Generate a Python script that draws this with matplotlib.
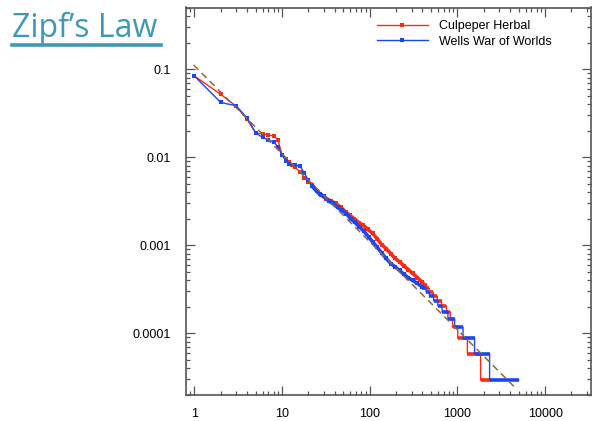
"""
Zipf's law: word frequency vs rank for two texts, log-log.
"""

import numpy as np
import matplotlib
matplotlib.use('Agg')
import matplotlib.pyplot as plt
from matplotlib.lines import Line2D
from matplotlib.ticker import FixedLocator, FixedFormatter, LogLocator, NullFormatter

# ── data ───────────────────────────────────────────────────────────────────
# Culpeper Herbal: top ranks
culp_head_rank = [1, 2, 3, 4, 5, 6, 7, 8, 9, 10, 11, 12, 13, 14, 16, 18, 20]
culp_head_freq = [0.084, 0.052, 0.038, 0.027, 0.019, 0.0184, 0.018, 0.0175,
                  0.0158, 0.0107, 0.0095, 0.0088, 0.0082, 0.0077, 0.0069,
                  0.0059, 0.0053]
# middle ranks (dense points)
culp_body_rank = [22, 25, 28, 32, 36, 41, 47, 53, 59, 67, 76, 84, 95, 108,
                  122, 137, 154, 175, 195, 219, 245, 275, 310, 350, 400]
culp_body_freq = [0.0049, 0.0042, 0.0037, 0.0034, 0.0032, 0.0030, 0.0027,
                  0.0024, 0.0022, 0.0020, 0.0018, 0.0017, 0.00152, 0.00137,
                  0.00118, 0.00102, 0.00092, 0.00080, 0.00071, 0.00065,
                  0.00059, 0.00053, 0.00048, 0.00043, 0.00038]
# low-count tail: runs of ranks with equal frequency
culp_tail_start = [410, 445, 480, 530, 590, 660, 750, 830, 880, 1010, 1300, 1840]
culp_tail_end = [445, 480, 530, 590, 660, 750, 830, 880, 1010, 1300, 1840, 2400]
culp_tail_freq = [3.53e-4, 3.24e-4, 2.94e-4, 2.65e-4, 2.35e-4, 2.06e-4,
                  1.76e-4, 1.47e-4, 1.18e-4, 8.8e-5, 5.9e-5, 2.94e-5]

# Wells War of Worlds
wells_head_rank = [1, 2, 3, 4, 5, 6, 7, 8, 9, 10, 11, 12, 14, 16, 18, 20]
wells_head_freq = [0.084, 0.042, 0.0385, 0.028, 0.019, 0.0168, 0.0158, 0.0150,
                   0.0132, 0.0106, 0.0092, 0.0083, 0.0081, 0.0080, 0.0066,
                   0.0055]
wells_body_rank = [22, 25, 27, 30, 34, 38, 43, 48, 54, 61, 68, 76, 86, 97,
                   108, 122, 137, 154, 175, 195, 219, 245, 275, 310, 350, 395]
wells_body_freq = [0.0047, 0.0041, 0.0038, 0.0036, 0.0032, 0.0030, 0.0027,
                   0.0025, 0.0023, 0.0020, 0.00182, 0.00163, 0.00145, 0.00125,
                   0.00110, 0.00095, 0.00082, 0.00071, 0.00062, 0.00057,
                   0.00052, 0.00047, 0.00043, 0.00040, 0.00037, 0.00034]
wells_tail_start = [400, 440, 480, 535, 600, 670, 780, 930, 1160, 1570, 2330]
wells_tail_end = [440, 480, 535, 600, 670, 780, 930, 1160, 1570, 2330, 5000]
wells_tail_freq = [3.24e-4, 2.94e-4, 2.65e-4, 2.35e-4, 2.06e-4, 1.76e-4,
                   1.47e-4, 1.18e-4, 8.8e-5, 5.9e-5, 2.94e-5]

# Zipf reference line  f ~ 1/rank
zipf_rank = [0.98, 4800]
zipf_freq = [0.112, 2.3e-5]

x_ticks = [1, 10, 100, 1000, 10000]
x_labels = ['1', '10', '100', '1000', '10000']
y_ticks = [1e-4, 1e-3, 1e-2, 1e-1]
y_labels = ['0.0001', '0.001', '0.01', '0.1']

RED = '#ff2a12'
BLUE = '#1a46f5'
DASH = '#8a6a3c'
TITLE = '#3f98b5'
SPINE = '#555555'
FONT = 'Liberation Sans'

fig = plt.figure(figsize=(5.92, 4.21), dpi=100)
W, H = 592, 421
ax = fig.add_axes([186 / W, 1 - 395 / H, (591 - 186) / W, (395 - 7.5) / H])


def draw_series(head_r, head_f, body_r, body_f, t_start, t_end, t_freq, color, z):
    tail_r = np.column_stack([t_start, t_end]).ravel()
    tail_f = np.repeat(t_freq, 2)
    all_r = np.concatenate([head_r, body_r, tail_r])
    all_f = np.concatenate([head_f, body_f, tail_f])
    ax.plot(all_r, all_f, '-', color=color, lw=1.0, zorder=z)
    pts_r = np.concatenate([head_r, body_r])
    pts_f = np.concatenate([head_f, body_f])
    ax.plot(pts_r, pts_f, 's', color=color, ms=2.5, mew=0, zorder=z)
    ax.plot(body_r, body_f, '-', color=color, lw=2.6, zorder=z)
    ax.hlines(t_freq, t_start, t_end, colors=color, lw=2.6, zorder=z)


draw_series(culp_head_rank, culp_head_freq, culp_body_rank, culp_body_freq,
            culp_tail_start, culp_tail_end, culp_tail_freq, RED, 2)
draw_series(wells_head_rank, wells_head_freq, wells_body_rank, wells_body_freq,
            wells_tail_start, wells_tail_end, wells_tail_freq, BLUE, 3)

ax.plot(zipf_rank, zipf_freq, color=DASH, lw=1.1, dashes=(4.5, 3), zorder=4)

ax.set_xscale('log')
ax.set_yscale('log')
ax.set_xlim(0.804, 33400)
ax.set_ylim(2.0e-5, 0.503)

ax.xaxis.set_major_locator(FixedLocator(x_ticks))
ax.xaxis.set_major_formatter(FixedFormatter(x_labels))
ax.yaxis.set_major_locator(FixedLocator(y_ticks))
ax.yaxis.set_major_formatter(FixedFormatter(y_labels))
ax.xaxis.set_minor_locator(LogLocator(base=10, subs=np.arange(2, 10), numticks=20))
ax.yaxis.set_minor_locator(LogLocator(base=10, subs=np.arange(2, 10), numticks=20))
ax.xaxis.set_minor_formatter(NullFormatter())
ax.yaxis.set_minor_formatter(NullFormatter())

ax.tick_params(which='both', direction='in', top=True, right=True,
               color=SPINE, width=0.9, labelsize=9, labelcolor='black')
ax.tick_params(which='major', length=6.5)
ax.tick_params(which='minor', length=3.2)
ax.tick_params(axis='y', pad=11)
ax.tick_params(axis='x', pad=9.5)
for lab in ax.get_xticklabels() + ax.get_yticklabels():
    lab.set_family(FONT)
for spine in ax.spines.values():
    spine.set_color(SPINE)
    spine.set_linewidth(1.2)

handles = [
    Line2D([], [], color=RED, lw=1.0, marker='s', ms=2.4, mew=0),
    Line2D([], [], color=BLUE, lw=1.0, marker='s', ms=2.4, mew=0),
]
ax.legend(handles, ['Culpeper Herbal', 'Wells War of Worlds'],
          loc='upper left', bbox_to_anchor=(376.7 / W, 1 - 20.5 / H),
          bbox_transform=fig.transFigure, frameon=False, numpoints=1,
          handlelength=4.1, handletextpad=0.85, borderpad=0,
          borderaxespad=0, labelspacing=0.25,
          prop={'family': FONT, 'size': 9})

# underlined slide title
fig.text(12 / W, 1 - 37 / H, 'Zipf\u2019s Law', fontsize=23, family='Open Sans',
         color=TITLE, ha='left', va='baseline')
fig.add_artist(Line2D([12 / W, 161 / W], [1 - 45 / H, 1 - 45 / H],
                      lw=2.6, color=TITLE))

plt.savefig('out.png', dpi=100)
plt.close()
